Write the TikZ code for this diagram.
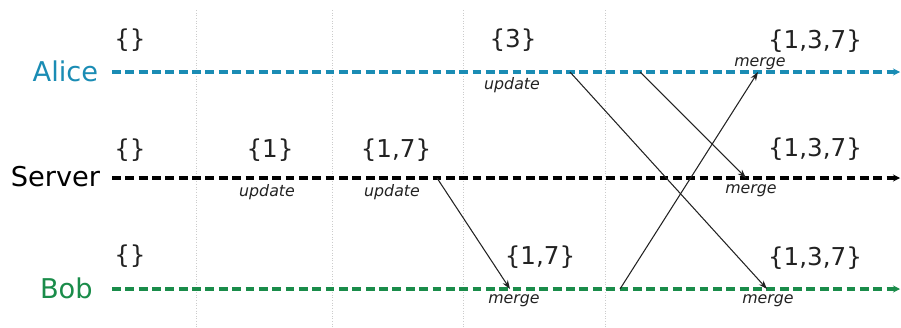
\documentclass[tikz,border=0pt]{standalone}
\usepackage{fontspec}
\setmainfont{DejaVu Sans}
\usetikzlibrary{arrows.meta}

\definecolor{alicecol}{HTML}{1A8CB4}
\definecolor{bobcol}{HTML}{1A8C4A}
\definecolor{inkcol}{HTML}{222222}

\begin{document}
\begin{tikzpicture}[
    timeline/.style={line width=1.9pt, dash pattern=on 5pt off 2.6pt, -{Stealth[length=4pt,width=4pt]}},
    who/.style={anchor=east, inner sep=0pt, font=\fontsize{15.5}{18}\selectfont},
    setval/.style={text=inkcol, font=\fontsize{14}{16}\selectfont},
    act/.style={text=inkcol, font=\fontsize{9}{11}\selectfont\itshape},
    msg/.style={inkcol, line width=0.6pt, -{Stealth[length=5pt,width=3.5pt]}},
    tick/.style={gray!40, densely dotted, line width=0.5pt}]
    \useasboundingbox (0,0) rectangle (18.02,6.54);

    % time steps
    \foreach \x in {3.92, 6.64, 9.26, 12.1}
        \draw[tick] (\x,6.34) -- (\x,0);

    % replicas
    \node[who, text=alicecol] (alice) at (1.97,5.12) {Alice};
    \node[who, text=black] (server) at (2.01,3.0) {Server};
    \node[who, text=bobcol] (bob) at (1.86,0.78) {Bob};

    \coordinate (aS) at (2.24,5.1);  \coordinate (aE) at (18.0,5.1);
    \coordinate (sS) at (2.24,2.98); \coordinate (sE) at (18.0,2.98);
    \coordinate (bS) at (2.24,0.76); \coordinate (bE) at (18.0,0.76);

    \draw[timeline, alicecol] (aS) -- (aE);
    \draw[timeline, black] (sS) -- (sE);
    \draw[timeline, bobcol] (bS) -- (bE);

    % states
    \node[setval] (a0) at (2.6,5.74) {\{\}};
    \node[setval] (a3) at (10.26,5.74) {\{3\}};
    \node[setval] (a137) at (16.3,5.72) {\{1,3,7\}};

    \node[setval] (s0) at (2.6,3.54) {\{\}};
    \node[setval] (s1) at (5.4,3.54) {\{1\}};
    \node[setval] (s17) at (7.92,3.54) {\{1,7\}};
    \node[setval] (s137) at (16.3,3.56) {\{1,3,7\}};

    \node[setval] (b0) at (2.6,1.42) {\{\}};
    \node[setval] (b17) at (10.8,1.40) {\{1,7\}};
    \node[setval] (b137) at (16.3,1.38) {\{1,3,7\}};

    % operations
    \node[act] (aup) at (10.24,4.84) {update};
    \node[act] (sup1) at (5.34,2.7) {update};
    \node[act] (sup2) at (7.84,2.7) {update};
    \node[act] (amg) at (15.2,5.26) {merge};
    \node[act] (smg) at (15.02,2.72) {merge};
    \node[act] (bmg1) at (10.28,0.52) {merge};
    \node[act] (bmg2) at (15.36,0.52) {merge};

    % messages
    \coordinate (m1s) at (8.74,2.98);  \coordinate (m1e) at (10.2,0.76);
    \coordinate (m2s) at (11.4,5.1);   \coordinate (m2e) at (15.34,0.76);
    \coordinate (m3s) at (12.8,5.1);   \coordinate (m3e) at (14.92,2.98);
    \coordinate (m4s) at (12.4,0.76);  \coordinate (m4e) at (15.16,5.1);

    \draw[msg] (m1s) -- (m1e);
    \draw[msg] (m2s) -- (m2e);
    \draw[msg] (m3s) -- (m3e);
    \draw[msg] (m4s) -- (m4e);
\end{tikzpicture}
\end{document}
